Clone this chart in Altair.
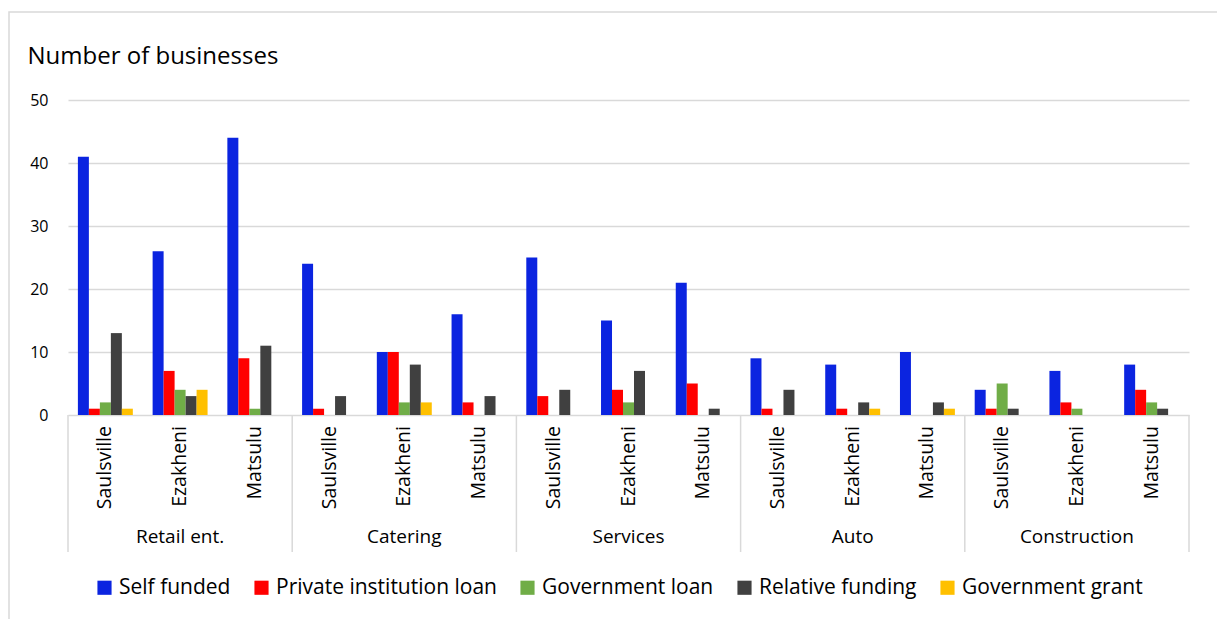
import altair as alt
import pandas as pd

sectors = ["Retail ent.", "Catering", "Services", "Auto", "Construction"]
towns = ["Saulsville", "Ezakheni", "Matsulu"]
series_names = ["Self funded", "Private institution loan", "Government loan",
                "Relative funding", "Government grant"]
series_colors = ["#0B24E0", "#FF0000", "#70AD47", "#404040", "#FFC000"]

# values per (sector, town) in order: Retail(S,E,M), Catering(S,E,M), Services, Auto, Construction
self_funded = [41, 26, 44, 24, 10, 16, 25, 15, 21, 9, 8, 10, 4, 7, 8]
private_loan = [1, 7, 9, 1, 10, 2, 3, 4, 5, 1, 1, 0, 1, 2, 4]
gov_loan = [2, 4, 1, 0, 2, 0, 0, 2, 0, 0, 0, 0, 5, 1, 2]
relative = [13, 3, 11, 3, 8, 3, 4, 7, 1, 4, 2, 2, 1, 0, 1]
grant = [1, 4, 0, 0, 2, 0, 0, 0, 0, 0, 1, 1, 0, 0, 0]

series_values = [self_funded, private_loan, gov_loan, relative, grant]
keys = [f"{s}|{t}" for s in sectors for t in towns]

rows = []
for name, vals in zip(series_names, series_values):
    for k, v in zip(keys, vals):
        if v > 0:
            rows.append({"key": k, "series": name, "value": v})
df = pd.DataFrame(rows)

FONT = "Open Sans"
GRID = "#D9D9D9"

xscale = alt.Scale(domain=keys, paddingInner=0, paddingOuter=0)

bars = alt.Chart(df).mark_bar().encode(
    x=alt.X("key:N", scale=xscale, sort=keys,
            axis=alt.Axis(title=None, labels=False, ticks=False, domainColor=GRID,
                          domainWidth=1.5, grid=False)),
    xOffset=alt.XOffset("series:N", sort=series_names,
                        scale=alt.Scale(domain=series_names, paddingInner=0, paddingOuter=0.9)),
    y=alt.Y("value:Q", scale=alt.Scale(domain=[0, 50], nice=False),
            axis=alt.Axis(title="Number of businesses", values=[0, 10, 20, 30, 40, 50],
                          domain=False, ticks=False, gridColor=GRID, gridWidth=1.5,
                          labelFont=FONT, labelFontSize=16, labelColor="#000000",
                          labelPadding=20, titleAngle=0, titleAlign="left",
                          titleBaseline="middle", titleX=-41, titleY=-44,
                          titleFont=FONT, titleFontSize=24, titleFontWeight="normal",
                          titleColor="#000000")),
    color=alt.Color("series:N", sort=series_names,
                    scale=alt.Scale(domain=series_names, range=series_colors),
                    legend=alt.Legend(title=None, orient="none", legendX=26, legendY=477,
                                      direction="horizontal", symbolType="square",
                                      symbolSize=200, symbolStrokeWidth=0,
                                      labelFont=FONT, labelFontSize=21, labelColor="#000000",
                                      labelLimit=0, columnPadding=20, symbolOffset=0,
                                      labelOffset=4)),
)

town_df = pd.DataFrame({"key": keys, "town": [t for s in sectors for t in towns]})
town_labels = alt.Chart(town_df).mark_text(
    font=FONT, fontSize=19.5, color="#000000", angle=270, align="right", baseline="middle"
).encode(
    x=alt.X("key:N", scale=xscale, sort=keys, axis=None),
    y=alt.value(326),
    text="town:N",
)

sep_df = pd.DataFrame({"key": [f"{s}|Saulsville" for s in sectors]})
seps = alt.Chart(sep_df).mark_rule(color=GRID, strokeWidth=1.5).encode(
    x=alt.X("key:N", scale=xscale, sort=keys, bandPosition=0, axis=None),
    y=alt.value(315), y2=alt.value(452),
)
end_df = pd.DataFrame({"key": [keys[-1]]})
sep_end = alt.Chart(end_df).mark_rule(color=GRID, strokeWidth=1.5).encode(
    x=alt.X("key:N", scale=xscale, sort=keys, bandPosition=1, axis=None),
    y=alt.value(315), y2=alt.value(452),
)

grp_df = pd.DataFrame({"key": [f"{s}|Ezakheni" for s in sectors], "label": sectors})
grp = alt.Chart(grp_df).mark_text(font=FONT, fontSize=19, color="#000000", baseline="middle").encode(
    x=alt.X("key:N", scale=xscale, sort=keys, axis=None),
    y=alt.value(437),
    text="label:N",
)

frame = alt.Chart(pd.DataFrame({"a": [0]})).mark_rect(fill=None, stroke=GRID, strokeWidth=1.5).encode(
    x=alt.value(-59), x2=alt.value(1180), y=alt.value(-88), y2=alt.value(540),
)

chart = alt.layer(frame, bars, town_labels, seps, sep_end, grp).properties(
    width=1121, height=315,
    autosize=alt.AutoSizeParams(type="none"),
    padding={"left": 68, "top": 100, "right": 28, "bottom": 204},
    background="white",
).configure_view(stroke=None)

chart.save("out.html", embed_options={"renderer": "svg", "actions": False})
